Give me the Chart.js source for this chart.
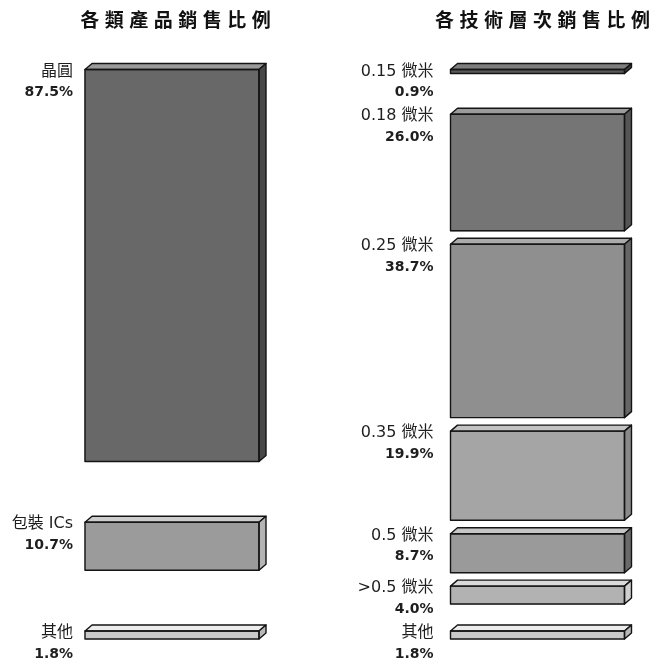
<!DOCTYPE html>
<html>
<head>
<meta charset="utf-8">
<script src="https://cdn.jsdelivr.net/npm/chart.js@4"></script>
<style>
  html, body { margin: 0; padding: 0; background: #fff; }
  #wrap { width: 650px; height: 669px; }
</style>
</head>
<body>
<div id="wrap"><canvas id="c" width="650" height="669"></canvas></div>
<script>
// ---- data ----
const columnTitles = ['各類產品銷售比例', '各技術層次銷售比例'];
const productNames = ['晶圓', '包裝 ICs', '其他'];
const productShares = [87.5, 10.7, 1.8];
const techNames = ['0.15 微米', '0.18 微米', '0.25 微米', '0.35 微米', '0.5 微米', '>0.5 微米', '其他'];
const techShares = [0.9, 26.0, 38.7, 19.9, 8.7, 4.0, 1.8];

// ---- styles ----
const productFront = ['#686868', '#9b9b9b', '#c9c9c9'];
const productTop   = ['#9a9a9a', '#cdcdcd', '#ececec'];
const productSide  = ['#474747', '#b4b4b4', '#b8b8b8'];
const techFront = ['#5a5a5a', '#757575', '#8f8f8f', '#a5a5a5', '#9a9a9a', '#b2b2b2', '#c9c9c9'];
const techTop   = ['#7e7e7e', '#9b9b9b', '#ababab', '#c3c3c3', '#c6c6c6', '#dadada', '#ececec'];
const techSide  = ['#3a3a3a', '#555555', '#666666', '#8a8a8a', '#6a6a6a', '#cfcfcf', '#b8b8b8'];

const MIN_GAP = 3;     // minimal space between blocks (in % units)
const MIN_SLOT = 10;   // minimal block + gap (room for the two-line label)
const DEPTH_X = 7, DEPTH_Y = 6;
const labelGap = [12, 17];
const TITLE_ADVANCE = 24.5;
const titleShift = [0, 1.5];
const TITLE_SIZE = 19;
const EDGE = '#141414';

function rawGaps(shares) {
  return shares.map((v, i) => i < shares.length - 1 ? Math.max(MIN_GAP, MIN_SLOT - v) : 0);
}
function sum(a) { return a.reduce((s, v) => s + v, 0); }

const techGaps = rawGaps(techShares);
const total = sum(techShares) + sum(techGaps);
let productGaps = rawGaps(productShares);
const extra = (total - sum(productShares) - sum(productGaps)) / (productShares.length - 1);
productGaps = productGaps.map((g, i) => i < productShares.length - 1 ? g + extra : 0);

function ranges(shares, gaps, cat) {
  let pos = 0;
  return shares.map((v, i) => {
    const r = { x: cat, y: [pos, pos + v] };
    pos += v + gaps[i];
    return r;
  });
}

const cats = ['products', 'tech'];
const columns = [
  { names: productNames, shares: productShares, top: productTop, side: productSide },
  { names: techNames, shares: techShares, top: techTop, side: techSide }
];

const cubePlugin = {
  id: 'cube',
  afterDatasetsDraw(chart) {
    const ctx = chart.ctx;
    chart.data.datasets.forEach((ds, di) => {
      const meta = chart.getDatasetMeta(di);
      const col = columns[di];
      meta.data.forEach((el, i) => {
        const p = el.getProps(['x', 'y', 'base', 'width'], true);
        const top = Math.min(p.y, p.base), bottom = Math.max(p.y, p.base);
        const left = p.x - p.width / 2, right = p.x + p.width / 2;
        ctx.save();
        ctx.lineWidth = 1.4;
        ctx.strokeStyle = EDGE;
        ctx.lineJoin = 'round';
        // top face
        ctx.beginPath();
        ctx.moveTo(left, top);
        ctx.lineTo(left + DEPTH_X, top - DEPTH_Y);
        ctx.lineTo(right + DEPTH_X, top - DEPTH_Y);
        ctx.lineTo(right, top);
        ctx.closePath();
        ctx.fillStyle = col.top[i];
        ctx.fill();
        ctx.stroke();
        // side face
        ctx.beginPath();
        ctx.moveTo(right, top);
        ctx.lineTo(right + DEPTH_X, top - DEPTH_Y);
        ctx.lineTo(right + DEPTH_X, bottom - DEPTH_Y);
        ctx.lineTo(right, bottom);
        ctx.closePath();
        ctx.fillStyle = col.side[i];
        ctx.fill();
        ctx.stroke();
        // front outline
        ctx.strokeRect(left, top, right - left, bottom - top);
        // labels
        ctx.fillStyle = '#1e1e1e';
        ctx.textAlign = 'right';
        ctx.textBaseline = 'middle';
        const lx = left - labelGap[di];
        ctx.font = '16px "DejaVu Sans", "Noto Sans CJK TC", sans-serif';
        ctx.fillText(col.names[i], lx, top + 2);
        ctx.font = 'bold 14px "DejaVu Sans", "Noto Sans CJK TC", sans-serif';
        ctx.fillText(col.shares[i].toFixed(1) + '%', lx, top + 23);
        ctx.restore();
      });
      // column title, drawn glyph by glyph with wide tracking
      const first = meta.data[0];
      const cx = first.x + DEPTH_X / 2 + titleShift[di];
      const chars = Array.from(columnTitles[di]);
      const span = TITLE_ADVANCE * (chars.length - 1);
      ctx.save();
      ctx.font = 'bold ' + TITLE_SIZE + 'px "Noto Sans CJK TC", sans-serif';
      ctx.fillStyle = '#111';
      ctx.textBaseline = 'middle';
      ctx.textAlign = 'center';
      chars.forEach((ch, k) => {
        ctx.fillText(ch, cx - span / 2 + k * TITLE_ADVANCE, 20);
      });
      ctx.restore();
    });
  }
};

new Chart(document.getElementById('c'), {
  type: 'bar',
  data: {
    labels: cats,
    datasets: [
      {
        data: ranges(productShares, productGaps, cats[0]),
        backgroundColor: productFront
      },
      {
        data: ranges(techShares, techGaps, cats[1]),
        backgroundColor: techFront
      }
    ]
  },
  options: {
    responsive: false,
    animation: false,
    devicePixelRatio: 1,
    layout: { padding: { left: 172, right: 112.5, top: 69.5, bottom: 30 } },
    datasets: {
      bar: {
        grouped: false,
        barThickness: 174,
        borderWidth: 0,
        borderSkipped: false,
        clip: false
      }
    },
    scales: {
      x: { type: 'category', offset: false, display: false },
      y: { type: 'linear', reverse: true, min: 0, max: total, display: false }
    },
    plugins: { legend: { display: false }, tooltip: { enabled: false }, title: { display: false } }
  },
  plugins: [cubePlugin]
});
</script>
</body>
</html>
